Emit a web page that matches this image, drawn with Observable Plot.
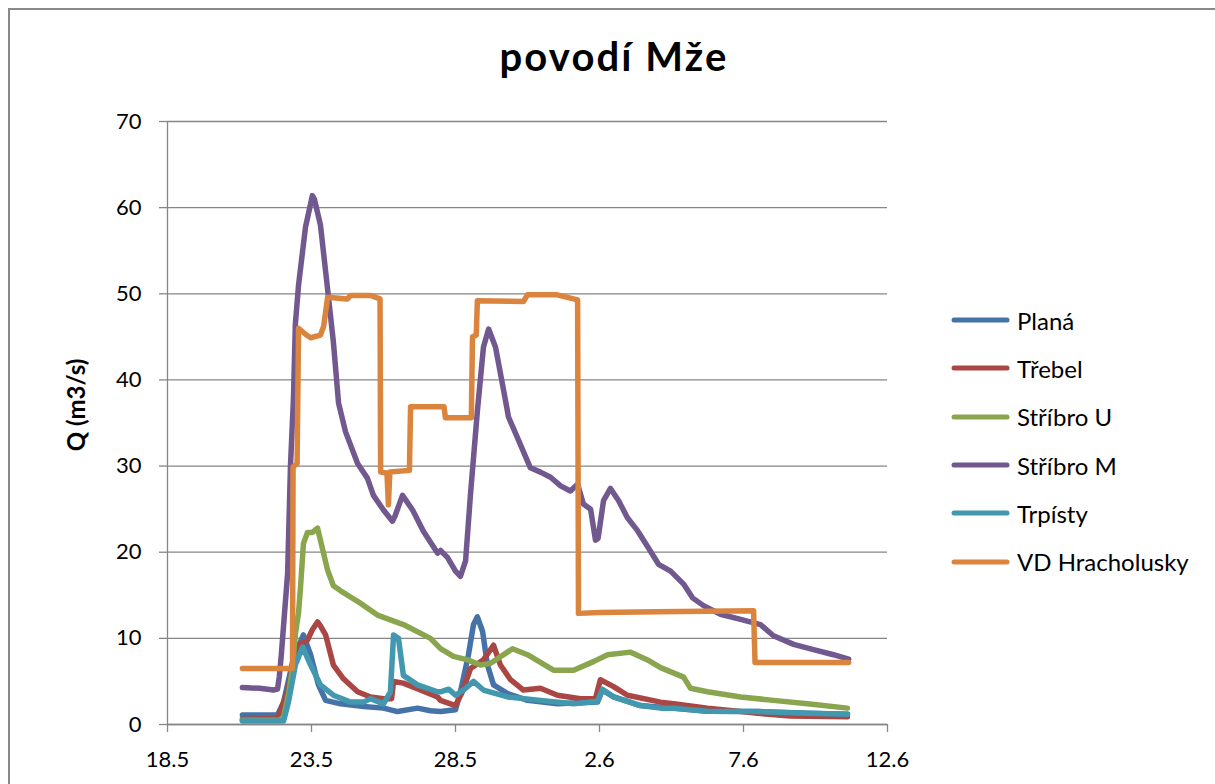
<!DOCTYPE html>
<html><head><meta charset="utf-8">
<script src="https://cdn.jsdelivr.net/npm/d3@7"></script>
<script src="https://cdn.jsdelivr.net/npm/@observablehq/plot@0.6"></script>
<style>
body{margin:0;background:#fff;font-family:Lato,"Open Sans",sans-serif;}
#wrap{position:relative;width:1215px;height:784px;overflow:hidden;background:#fff;}
#frame{position:absolute;left:8px;top:8px;width:1400px;height:1000px;border:2px solid #898989;box-sizing:border-box;}
#title{position:absolute;left:0;width:1228px;top:36px;text-align:center;font-weight:bold;font-size:40px;line-height:40px;letter-spacing:2.1px;color:#000;}
#ylab{position:absolute;left:75px;top:405px;transform:translate(-50%,-50%) rotate(-90deg);font-weight:bold;font-size:24px;white-space:nowrap;color:#000;}
#chart{position:absolute;left:0;top:0;}
#legend{position:absolute;left:948px;top:296px;}
.li{display:flex;align-items:center;height:48.3px;font-size:24px;color:#000;}
.li svg{margin-right:7px;}
</style></head>
<body><div id="wrap"><div id="frame"></div><div id="chart"></div><div id="title">povodí Mže</div><div id="ylab">Q (m3/s)</div><div id="legend"></div></div>
<script>
// series names and colours
const names = ["Planá","Třebel","Stříbro U","Stříbro M","Trpísty","VD Hracholusky"];
const colors = ["#4572A7","#AA4643","#89A54E","#71588F","#4198AF","#DB843D"];
// x tick labels (days after 18.5.) and y ticks
const xTickDays = [0,5,10,15,20,25];
const yTicks = [0,10,20,30,40,50,60,70];
// [days after 18.5. 00:00, Q m3/s]
const plana = [[2.60,1.1],[3.82,1.1],[4.03,2.6],[4.375,7.7],[4.72,10.4],[4.97,8.1],[5.24,4.6],[5.49,2.8],[6.01,2.4],[6.81,2.1],[7.50,1.9],[7.99,1.5],[8.68,1.9],[9.13,1.6],[9.48,1.5],[10.0,1.7],[10.17,3.8],[10.45,8.1],[10.625,11.6],[10.76,12.5],[10.94,10.8],[11.11,6.9],[11.32,4.6],[11.81,3.6],[12.5,2.8],[13.54,2.4],[14.93,2.6],[15.10,4.0],[15.49,3.2],[16.42,2.2],[17.12,2.0],[17.57,1.9],[18.75,1.55],[20.49,1.5],[22.22,1.3],[23.61,1.2]];
const trebel = [[2.60,0.6],[3.82,0.7],[4.17,3.8],[4.51,9.2],[4.86,9.8],[5.03,11.0],[5.21,11.9],[5.30,11.5],[5.49,10.4],[5.76,6.9],[6.11,5.3],[6.60,3.8],[7.05,3.2],[7.50,3.0],[7.78,3.0],[7.85,5.0],[8.19,4.8],[8.78,4.0],[9.375,3.2],[9.48,2.8],[10.0,2.2],[10.24,3.8],[10.52,6.5],[10.97,7.5],[11.32,9.2],[11.56,6.9],[11.91,5.2],[12.36,4.0],[12.95,4.2],[13.54,3.4],[14.34,3.0],[14.86,3.0],[15.03,5.2],[15.49,4.4],[15.97,3.4],[17.12,2.6],[17.57,2.4],[18.75,1.9],[20.49,1.3],[21.63,1.0],[23.61,0.9]];
const striboU = [[2.60,0.5],[3.90,0.5],[4.03,0.9],[4.20,3.5],[4.34,6.5],[4.44,10.5],[4.55,13],[4.62,16],[4.72,21],[4.86,22.3],[5.03,22.3],[5.21,22.8],[5.31,21.4],[5.56,17.9],[5.76,16.1],[6.11,15.3],[6.35,14.8],[6.60,14.3],[7.29,12.7],[8.19,11.6],[9.13,10.0],[9.48,8.8],[9.93,7.9],[10.42,7.5],[10.87,6.9],[11.22,7.1],[11.98,8.8],[12.5,8.1],[13.40,6.3],[14.10,6.3],[14.79,7.3],[15.28,8.1],[16.08,8.4],[16.67,7.5],[17.12,6.6],[17.92,5.5],[18.16,4.2],[18.75,3.8],[19.90,3.2],[21.04,2.8],[22.22,2.4],[23.61,1.9]];
const striboM = [[2.60,4.3],[3.20,4.2],[3.68,4.0],[3.82,4.1],[3.88,5.5],[3.95,8],[4.03,11.5],[4.17,17.5],[4.27,30],[4.375,38],[4.44,46.5],[4.55,51],[4.79,57.7],[5.03,61.4],[5.10,61],[5.31,58],[5.56,50.5],[5.76,44.4],[5.94,37.3],[6.18,34],[6.60,30.3],[6.94,28.6],[7.15,26.6],[7.50,24.9],[7.81,23.6],[7.90,24.2],[8.16,26.6],[8.51,24.9],[8.89,22.4],[9.375,19.9],[9.48,20.2],[9.72,19.4],[10.0,17.8],[10.17,17.2],[10.35,19],[10.52,26.7],[10.76,36.4],[10.97,43.8],[11.15,45.9],[11.39,43.8],[11.67,38.8],[11.84,35.7],[12.15,33.3],[12.60,29.8],[12.95,29.3],[13.30,28.7],[13.65,27.7],[13.99,27.1],[14.24,27.9],[14.44,25.6],[14.69,25],[14.86,21.4],[14.95,21.6],[15.14,26],[15.38,27.4],[15.66,26],[15.97,24],[16.32,22.5],[16.70,20.5],[17.05,18.6],[17.47,17.8],[17.92,16.3],[18.23,14.7],[18.61,13.8],[19.20,12.8],[19.90,12.2],[20.59,11.6],[21.04,10.3],[21.74,9.3],[22.43,8.7],[23.125,8.1],[23.65,7.6]];
const trpisty = [[2.60,0.4],[4.03,0.4],[4.20,2.6],[4.44,6.9],[4.69,9.0],[4.97,6.9],[5.31,4.6],[5.76,3.4],[6.35,2.6],[6.81,2.6],[7.05,3.0],[7.50,2.4],[7.74,3.8],[7.85,10.4],[8.02,10.0],[8.19,5.7],[8.68,4.6],[9.375,3.8],[9.48,3.8],[9.76,4.1],[10.0,3.4],[10.28,4.0],[10.625,5.0],[10.97,4.0],[11.81,3.2],[12.95,2.8],[14.10,2.4],[14.93,2.7],[15.10,4.1],[15.49,3.2],[16.42,2.2],[17.12,1.9],[17.57,1.9],[18.75,1.55],[20.49,1.5],[22.22,1.3],[23.61,1.2]];
const hracholusky = [[2.60,6.5],[4.34,6.5],[4.36,29.9],[4.50,30.3],[4.55,46],[4.62,45.8],[4.79,45.3],[4.97,44.9],[5.31,45.2],[5.42,46.2],[5.56,49.6],[6.25,49.4],[6.35,49.8],[7.05,49.8],[7.38,49.4],[7.40,29.3],[7.62,29.2],[7.67,25.5],[7.72,29.3],[8.40,29.5],[8.44,36.9],[9.60,36.9],[9.65,35.6],[10.55,35.6],[10.59,45],[10.72,45.2],[10.76,49.2],[12.36,49.1],[12.5,49.9],[13.5,49.9],[14.24,49.3],[14.27,12.9],[15.0,13.0],[17.0,13.1],[20.35,13.2],[20.40,7.2],[23.65,7.2]];

const seriesData = [plana, trebel, striboU, striboM, trpisty, hracholusky];
const base = Date.UTC(2013,4,18);
const toDate = d => new Date(base + d*864e5);
const rows = seriesData.flatMap((pts,i) => pts.map(([d,q]) => ({name:names[i], date:toDate(d), q})));

const chart = Plot.plot({
  width:1215, height:784,
  marginLeft:167, marginRight:328, marginTop:121, marginBottom:60,
  style:{fontFamily:"Lato, 'Open Sans', sans-serif", background:"transparent"},
  x:{type:"utc", domain:[toDate(0), toDate(25)]},
  y:{domain:[0,70]},
  color:{domain:names, range:colors},
  marks:[
    Plot.gridY(yTicks, {stroke:"#868686", strokeOpacity:1, strokeWidth:1.3}),
    Plot.axisY(yTicks, {tickSize:8, tickPadding:18, stroke:"#868686", strokeWidth:1.3, fill:"#000", fontSize:22, label:null}),
    Plot.axisX(xTickDays.map(toDate), {tickSize:8, tickPadding:19, stroke:"#868686", strokeWidth:1.3, fill:"#000", fontSize:22, label:null,
      tickFormat: d => `${d.getUTCDate()}.${d.getUTCMonth()+1}`}),
    Plot.ruleX([toDate(0)], {stroke:"#868686", strokeWidth:1.3}),
    Plot.ruleY([0], {stroke:"#868686", strokeWidth:1.3}),
    Plot.line(rows, {x:"date", y:"q", z:"name", stroke:"name", strokeWidth:5.5, strokeLinejoin:"round", strokeLinecap:"round"})
  ]
});
document.getElementById("chart").appendChild(chart);

const leg = document.getElementById("legend");
names.forEach((n,i) => {
  const div = document.createElement("div");
  div.className = "li";
  div.innerHTML = `<svg width="62" height="10"><line x1="6" y1="5" x2="59" y2="5" stroke="${colors[i]}" stroke-width="5" stroke-linecap="round"/></svg><span>${n}</span>`;
  leg.appendChild(div);
});
</script></body></html>
